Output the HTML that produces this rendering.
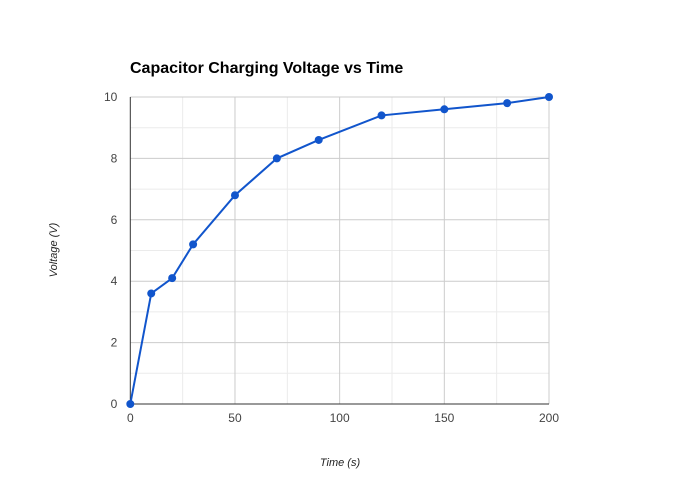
<!DOCTYPE html>
<html><head><meta charset="utf-8">
<style>
body{margin:0;background:#fff;}
svg{display:block;font-family:"Liberation Sans",Arial,sans-serif;}
</style></head>
<body>
<svg id="chart" width="680" height="500">
<rect width="680" height="500" fill="#fff"/>
<text x="130" y="73" font-size="16" font-weight="bold" fill="#000">Capacitor Charging Voltage vs Time</text>
<g id="grid"></g>
<g id="axes"></g>
<g id="series"></g>
<text x="340" y="466" font-size="11" font-style="italic" text-anchor="middle" fill="#222">Time (s)</text>
<text transform="translate(57,250) rotate(-90)" font-size="11" font-style="italic" text-anchor="middle" fill="#222">Voltage (V)</text>
</svg>
<script>
const times = [0, 10, 20, 30, 50, 70, 90, 120, 150, 180, 200];
const voltages = [0, 3.6, 4.1, 5.2, 6.8, 8.0, 8.6, 9.4, 9.6, 9.8, 10];
const xTicks = [0, 50, 100, 150, 200];
const yTicks = [0, 2, 4, 6, 8, 10];

const NS = "http://www.w3.org/2000/svg";
const X0 = 130.3, X1 = 549, Y0 = 404, Y1 = 97;
const xMax = 200, yMax = 10;
function sx(v){ return X0 + (v / xMax) * (X1 - X0); }
function sy(v){ return Y0 - (v / yMax) * (Y0 - Y1); }
function mk(tag, attrs, parent){
  const e = document.createElementNS(NS, tag);
  for (const k in attrs) e.setAttribute(k, attrs[k]);
  parent.appendChild(e);
  return e;
}
const grid = document.getElementById('grid');
const axes = document.getElementById('axes');
const series = document.getElementById('series');

// minor gridlines
for (let v = 25; v < xMax; v += 50) {
  const l = mk('line', {x1: sx(v), x2: sx(v), y1: Y1, y2: Y0, stroke: '#ebebeb', 'stroke-width': 1}, grid);
  
  
}
for (let v = 1; v < yMax; v += 2) {
  const l = mk('line', {x1: X0, x2: X1, y1: sy(v), y2: sy(v), stroke: '#ebebeb', 'stroke-width': 1}, grid);
  
  
}
// major gridlines and labels
xTicks.forEach(t => {
  if (t > 0) {
    const l = mk('line', {x1: sx(t), x2: sx(t), y1: Y1, y2: Y0, stroke: '#cccccc', 'stroke-width': 1}, grid);
    
    
  }
  const tx = mk('text', {x: sx(t), y: Y0 + 18, 'font-size': 12, 'text-anchor': 'middle', fill: '#444'}, axes);
  tx.textContent = t;
  
  
});
yTicks.forEach(t => {
  if (t > 0) {
    const l = mk('line', {x1: X0, x2: X1, y1: sy(t), y2: sy(t), stroke: '#cccccc', 'stroke-width': 1}, grid);
    
    
  }
  const tx = mk('text', {x: X0 - 13, y: sy(t) + 4, 'font-size': 12, 'text-anchor': 'end', fill: '#444'}, axes);
  tx.textContent = t;
  
  
});
const ya = mk('line', {x1: X0, x2: X0, y1: Y1, y2: Y0, stroke: '#333', 'stroke-width': 1}, axes);


const xa = mk('line', {x1: X0, x2: X1, y1: Y0, y2: Y0, stroke: '#333', 'stroke-width': 1}, axes);



// line
const pts = times.map((t, i) => sx(t) + ',' + sy(voltages[i])).join(' ');
const pl = mk('polyline', {points: pts, fill: 'none', stroke: '#1155cc', 'stroke-width': 2}, series);


times.forEach((t, i) => {
  const c = mk('circle', {cx: sx(t), cy: sy(voltages[i]), r: 4, fill: '#1155cc'}, series);
  
  
});
</script>
</body></html>
